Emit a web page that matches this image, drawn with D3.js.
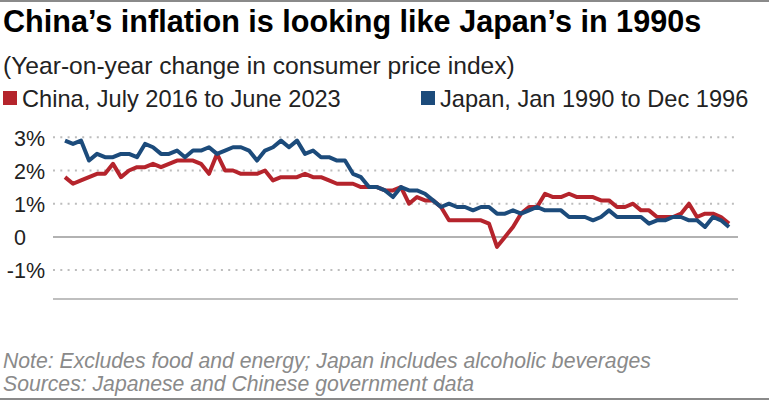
<!DOCTYPE html>
<html>
<head>
<meta charset="utf-8">
<script src="https://cdn.jsdelivr.net/npm/d3@7"></script>
<style>
  html, body { margin: 0; padding: 0; background: #fff; }
  svg { display: block; font-family: "Liberation Sans", Arial, Helvetica, sans-serif; }
</style>
</head>
<body>
<svg id="chart" width="769" height="400"></svg>
<script>
// ---- Data (monthly index 0..83) ----
const title = "China\u2019s inflation is looking like Japan\u2019s in 1990s";
const subtitle = "(Year-on-year change in consumer price index)";
const seriesNames = ["China, July 2016 to June 2023", "Japan, Jan 1990 to Dec 1996"];
const chinaValues = [
  1.8,1.6,1.7,1.8,1.9,1.9,
  2.2,1.8,2.0,2.1,2.1,2.2,2.1,2.2,2.3,2.3,2.3,2.2,
  1.9,2.5,2.0,2.0,1.9,1.9,1.9,2.0,1.7,1.8,1.8,1.8,
  1.9,1.8,1.8,1.7,1.6,1.6,1.6,1.5,1.5,1.5,1.4,1.4,
  1.5,1.0,1.2,1.1,1.1,0.9,0.5,0.5,0.5,0.5,0.5,0.4,
  -0.3,0.0,0.3,0.7,0.9,0.9,1.3,1.2,1.2,1.3,1.2,1.2,
  1.2,1.1,1.1,0.9,0.9,1.0,0.8,0.8,0.6,0.6,0.6,0.7,
  1.0,0.6,0.7,0.7,0.6,0.4
];
const japanValues = [
  2.9,2.8,2.9,2.3,2.5,2.4,2.4,2.5,2.5,2.4,2.8,2.7,
  2.5,2.5,2.6,2.4,2.6,2.6,2.7,2.5,2.6,2.7,2.7,2.6,
  2.3,2.6,2.7,2.9,2.7,2.9,2.5,2.6,2.4,2.4,2.3,2.3,
  1.9,1.8,1.5,1.5,1.4,1.2,1.5,1.4,1.4,1.3,1.1,0.9,
  1.0,0.9,0.9,0.8,0.9,0.9,0.7,0.7,0.8,0.7,0.8,0.9,
  0.8,0.8,0.8,0.6,0.6,0.6,0.5,0.6,0.8,0.6,0.6,0.6,
  0.6,0.4,0.5,0.5,0.6,0.6,0.5,0.5,0.3,0.6,0.5,0.3
];
const yTicks = [-1, 0, 1, 2, 3];
const yTickLabels = ["-1%", "0", "1%", "2%", "3%"];
const noteText = "Note: Excludes food and energy; Japan includes alcoholic beverages";
const sourceText = "Sources: Japanese and Chinese government data";

// ---- Layout ----
const svg = d3.select("#chart");
const W = 769, H = 400;
const colors = ["#b5242c", "#1c4b7b"];
const gridLeft = 53, gridRight = 738;

const x = d3.scaleLinear().domain([0, chinaValues.length - 1]).range([65, 729]);
const y = d3.scaleLinear().domain([-1.87, 3.4]).range([299, 124]);

// top and bottom rules
svg.append("rect").attr("x", 0).attr("y", 0).attr("width", W).attr("height", 2).attr("fill", "#8a8a8a");
svg.append("rect").attr("x", 0).attr("y", H - 2).attr("width", W).attr("height", 2).attr("fill", "#8a8a8a");

// Title / subtitle
svg.append("text").attr("x", 3).attr("y", 32).attr("font-size", 30.6).attr("font-weight", "bold")
  .attr("fill", "#000").text(title);
svg.append("text").attr("x", 3).attr("y", 74).attr("font-size", 24.6).attr("fill", "#222").text(subtitle);

// Legend
const legendX = [3, 421];
seriesNames.forEach((name, i) => {
  svg.append("rect").attr("x", legendX[i]).attr("y", 91).attr("width", 14).attr("height", 14).attr("fill", colors[i]);
  svg.append("text").attr("x", legendX[i] + 19).attr("y", 107).attr("font-size", 23.6).attr("fill", "#222").text(name);
});

// Grid lines
const grid = svg.append("g");
yTicks.forEach(t => {
  const line = grid.append("line")
    .attr("x1", gridLeft).attr("x2", gridRight)
    .attr("y1", y(t)).attr("y2", y(t));
  if (t === 0) {
    line.attr("stroke", "#999").attr("stroke-width", 1.5);
  } else {
    line.attr("stroke", "#bdbdbd").attr("stroke-width", 2).attr("stroke-dasharray", "2 5.3");
  }
});
// bottom axis line
grid.append("line").attr("x1", gridLeft).attr("x2", gridRight)
  .attr("y1", y.range()[0]).attr("y2", y.range()[0])
  .attr("stroke", "#aaa").attr("stroke-width", 1.5);

// Y axis labels via d3 axis
const yAxis = d3.axisLeft(y).tickValues(yTicks).tickSize(0)
  .tickFormat(d => yTickLabels[yTicks.indexOf(d)]);
const yg = svg.append("g").attr("transform", "translate(45,0)").call(yAxis);
yg.select(".domain").remove();
yg.selectAll("text").attr("x", 0).attr("dy", "0.36em")
  .attr("font-size", 21.5).attr("fill", "#222")
  .attr("font-family", "Liberation Sans, Arial, sans-serif");
yg.selectAll(".tick").filter(d => d === 0).select("text")
  .attr("text-anchor", "start").attr("x", -31);

// Lines
const line = d3.line().x((d, i) => x(i)).y(d => y(d));
[chinaValues, japanValues].forEach((vals, i) => {
  svg.append("path").datum(vals).attr("d", line)
    .attr("fill", "none").attr("stroke", colors[i]).attr("stroke-width", 4)
    .attr("stroke-linejoin", "round").attr("stroke-linecap", "butt");
});

// Footer
svg.append("text").attr("x", 3).attr("y", 368).attr("font-size", 21.2).attr("font-style", "italic")
  .attr("fill", "#8a8a8a").text(noteText);
svg.append("text").attr("x", 3).attr("y", 391).attr("font-size", 21.2).attr("font-style", "italic")
  .attr("fill", "#8a8a8a").text(sourceText);
</script>
</body>
</html>
